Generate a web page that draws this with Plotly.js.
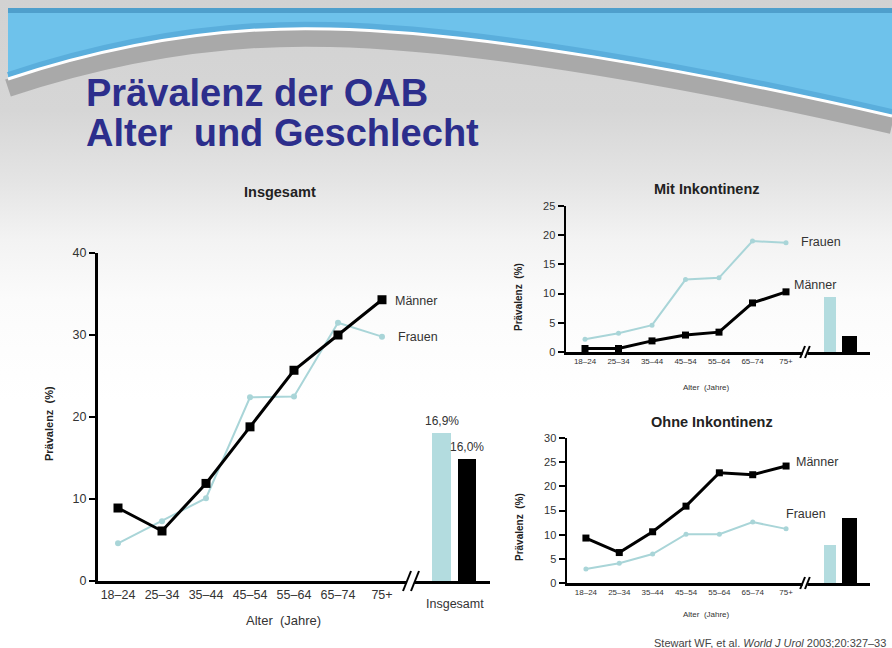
<!DOCTYPE html>
<html>
<head>
<meta charset="utf-8">
<script src="https://cdn.plot.ly/plotly-3.0.1.min.js"></script>
<style>
  html, body { margin: 0; padding: 0; }
  #chart {
    width: 892px; height: 648px;
    background: linear-gradient(to bottom, #d2d2d2 0px, #d6d6d6 110px, #e4e4e4 180px, #f3f3f3 240px, #fbfbfb 300px, #ffffff 400px);
  }
</style>
</head>
<body>
<div id="chart"></div>
<script>
// ---------- data ----------
const ageGroups = ["18–24", "25–34", "35–44", "45–54", "55–64", "65–74", "75+"];
const sexes = ["Frauen", "Männer"];

// Insgesamt
const totalMaenner = [8.9, 6.1, 11.9, 18.8, 25.7, 30.0, 34.3];
const totalFrauen  = [4.6, 7.3, 10.1, 22.4, 22.5, 31.5, 29.8];
const totalBars    = [18.1, 14.9];          // Frauen, Männer
const totalBarLabels = ["16,9%", "16,0%"];

// Mit Inkontinenz
const mitMaenner = [0.6, 0.6, 1.9, 2.9, 3.4, 8.4, 10.3];
const mitFrauen  = [2.2, 3.2, 4.6, 12.4, 12.7, 19.0, 18.7];
const mitBars    = [9.4, 2.7];

// Ohne Inkontinenz
const ohneMaenner = [9.3, 6.3, 10.6, 15.9, 22.8, 22.4, 24.2];
const ohneFrauen  = [2.9, 4.1, 6.0, 10.1, 10.1, 12.6, 11.2];
const ohneBars    = [7.9, 13.4];

// ---------- helpers ----------
const W = 892, H = 648;
const X = px => px / W;
const Y = py => 1 - py / H;
const FONT = "Liberation Sans, Arial, sans-serif";
const TEAL = "#a9d5d8";
const TEALBAR = "#b3dcdf";

function pathFrom(pts, close) {
  let s = "M " + X(pts[0][0]) + "," + Y(pts[0][1]);
  for (let i = 1; i < pts.length; i++) {
    const p = pts[i];
    if (p.length === 6) {
      s += " C " + X(p[0]) + "," + Y(p[1]) + " " + X(p[2]) + "," + Y(p[3]) + " " + X(p[4]) + "," + Y(p[5]);
    } else {
      s += " L " + X(p[0]) + "," + Y(p[1]);
    }
  }
  return s + (close ? " Z" : "");
}
function shiftCurve(dy) {
  return [[8, 79 + dy], [120, 42 + dy, 230, 26 + dy, 330, 29 + dy], [480, 32 + dy, 700, 72 + dy, 892, 116 + dy]];
}

// ---------- traces ----------
function lineTrace(y, xa, ya, male, small) {
  return {
    type: "scatter", mode: "lines+markers",
    x: ageGroups, y: y, xaxis: xa, yaxis: ya,
    line: { color: male ? "#000000" : TEAL, width: male ? 3 : 2 },
    marker: male ? { symbol: "square", size: small ? 7 : 9, color: "#000" }
                 : { symbol: "circle", size: small ? 5 : 6, color: TEAL },
    hoverinfo: "x+y", showlegend: false, cliponaxis: false
  };
}
function barTrace(y, xa, ya, width) {
  return {
    type: "bar", x: sexes, y: y, xaxis: xa, yaxis: ya, width: width,
    marker: { color: [TEALBAR, "#000000"] }, showlegend: false, hoverinfo: "x+y"
  };
}

const data = [
  lineTrace(totalFrauen, "x", "y", false, false),
  lineTrace(totalMaenner, "x", "y", true, false),
  barTrace(totalBars, "x2", "y", 0.74),
  lineTrace(mitFrauen, "x3", "y2", false, true),
  lineTrace(mitMaenner, "x3", "y2", true, true),
  barTrace(mitBars, "x4", "y2", [0.62, 0.77]),
  lineTrace(ohneFrauen, "x5", "y3", false, true),
  lineTrace(ohneMaenner, "x5", "y3", true, true),
  barTrace(ohneBars, "x6", "y3", [0.62, 0.77])
];

// ---------- axes ----------
function catAxis(domain, range, anchor, lw, fs, showLabels) {
  return {
    domain: domain, range: range, type: "category", anchor: anchor,
    showline: true, linecolor: "#000", linewidth: lw, ticks: "",
    showgrid: false, zeroline: false, showticklabels: showLabels,
    tickfont: { family: FONT, size: fs, color: "#333" }, fixedrange: true
  };
}
function valAxis(domain, range, dtick, anchor, lw, fs) {
  return {
    domain: domain, range: range, dtick: dtick, anchor: anchor,
    showline: true, linecolor: "#000", linewidth: lw,
    ticks: "outside", ticklen: 6, tickwidth: 2, tickcolor: "#000",
    showgrid: false, zeroline: false,
    tickfont: { family: FONT, size: fs, color: "#333" }, fixedrange: true
  };
}

const layout = {
  width: W, height: H,
  margin: { l: 0, r: 0, t: 0, b: 0 },
  paper_bgcolor: "rgba(0,0,0,0)", plot_bgcolor: "rgba(0,0,0,0)",
  showlegend: false, bargap: 0,
  xaxis:  catAxis([X(98), X(412)], [-0.4545, 6.682], "y", 3, 12.5, true),
  xaxis2: catAxis([X(412), X(490)], [-1.157, 1.9], "y", 3, 12, false),
  yaxis:  valAxis([Y(581), Y(253)], [0, 40], 10, "x", 3, 12.5),
  xaxis3: catAxis([X(566), X(805)], [-0.567, 6.567], "y2", 2.5, 8, true),
  xaxis4: catAxis([X(805), X(870)], [-1.282, 2.051], "y2", 2.5, 8, false),
  yaxis2: valAxis([Y(352), Y(206)], [0, 25], 5, "x3", 2.5, 11),
  xaxis5: catAxis([X(567), X(805)], [-0.567, 6.567], "y3", 2.5, 8, true),
  xaxis6: catAxis([X(805), X(870)], [-1.282, 2.051], "y3", 2.5, 8, false),
  yaxis3: valAxis([Y(583), Y(438)], [0, 30], 5, "x5", 2.5, 11),
  shapes: [],
  annotations: []
};

// ---------- background decoration ----------
const sh = layout.shapes;
sh.push({ type: "path", xref: "paper", yref: "paper", layer: "below",
  path: pathFrom(shiftCurve(9), false), line: { color: "#a9a9a9", width: 18 } });
sh.push({ type: "path", xref: "paper", yref: "paper", layer: "below",
  path: pathFrom([[8, 8], [892, 8], [892, 116], [700, 72, 480, 32, 330, 29], [230, 26, 120, 42, 8, 79]], true),
  fillcolor: "#6ec2eb", line: { width: 0 } });
sh.push({ type: "rect", xref: "paper", yref: "paper", layer: "below",
  x0: X(8), x1: X(892), y0: Y(8), y1: Y(13), fillcolor: "#4f9fcc", line: { width: 0 } });
sh.push({ type: "path", xref: "paper", yref: "paper", layer: "below",
  path: pathFrom(shiftCurve(-4), false), line: { color: "#5aaedc", width: 6 } });
sh.push({ type: "path", xref: "paper", yref: "paper", layer: "below",
  path: pathFrom(shiftCurve(0), false), line: { color: "#ffffff", width: 3 } });

function breakMarks(cx, cy, s) {
  const h = 10 * s, d = 4 * s;
  sh.push({ type: "rect", xref: "paper", yref: "paper", x0: X(cx - d), x1: X(cx + d), y0: Y(cy + 3), y1: Y(cy - 3),
    fillcolor: "#ffffff", line: { width: 0 } });
  [-d, d].forEach(off => {
    sh.push({ type: "line", xref: "paper", yref: "paper",
      x0: X(cx + off - h * 0.4), y0: Y(cy + h), x1: X(cx + off + h * 0.4), y1: Y(cy - h),
      line: { color: "#000", width: 2 } });
  });
}
breakMarks(411, 581, 1);
breakMarks(805, 352, 0.6);
breakMarks(805, 583, 0.6);

// ---------- annotations ----------
const an = layout.annotations;
function txt(text, x, y, size, opts, color) {
  an.push(Object.assign({
    text: text, xref: "paper", yref: "paper", x: X(x), y: Y(y),
    showarrow: false, xanchor: "center", yanchor: "middle",
    font: { family: FONT, size: size, color: color || "#222" }
  }, opts || {}));
}
txt("<b>Prävalenz der OAB</b>", 84, 93, 38, { xanchor: "left" }, "#2c2e8c");
txt("<b>Alter  und Geschlecht</b>", 84, 133, 38, { xanchor: "left" }, "#2c2e8c");
txt("<b>Insgesamt</b>", 280, 192, 14.5);
txt("<b>Mit Inkontinenz</b>", 707, 189, 14.5);
txt("<b>Ohne Inkontinenz</b>", 712, 422, 14.5);
txt("<b>Prävalenz  (%)</b>", 49, 424, 11, { textangle: -90 });
txt("<b>Prävalenz  (%)</b>", 519, 297, 10, { textangle: -90 });
txt("<b>Prävalenz  (%)</b>", 519, 527, 10, { textangle: -90 });
txt("Alter  (Jahre)", 283, 620, 13, null, "#333");
txt("Alter  (Jahre)", 706, 387, 8, null, "#333");
txt("Alter  (Jahre)", 706, 614, 8, null, "#333");
txt("Insgesamt", 455, 604, 12.5, null, "#333");
txt("Stewart WF, et al. <i>World J Urol</i> 2003;20:327–33", 888, 643, 11, { xanchor: "right" }, "#444");

function seriesLabel(name, xa, ya, yv, xs, ys, size) {
  an.push({ text: name, xref: xa, yref: ya, x: ageGroups[ageGroups.length - 1], y: yv,
    xanchor: "left", yanchor: "middle", xshift: xs, yshift: ys, showarrow: false,
    font: { family: FONT, size: size, color: "#333" } });
}
seriesLabel("Männer", "x", "y", totalMaenner[6], 11, -1, 12.5);
seriesLabel("Frauen", "x", "y", totalFrauen[6], 14, 0, 12.5);
seriesLabel("Frauen", "x3", "y2", mitFrauen[6], 13, 1, 12.5);
seriesLabel("Männer", "x3", "y2", mitMaenner[6], 6, 7, 12.5);
seriesLabel("Männer", "x5", "y3", ohneMaenner[6], 8, 4, 12.5);
seriesLabel("Frauen", "x5", "y3", ohneFrauen[6], -2, 15, 12.5);

totalBarLabels.forEach((t, i) => {
  an.push({ text: t, xref: "x2", yref: "y", x: sexes[i], y: totalBars[i],
    xanchor: "center", yanchor: "bottom", yshift: 3, showarrow: false,
    font: { family: FONT, size: 12, color: "#333" } });
});

Plotly.newPlot("chart", data, layout, { staticPlot: true, displayModeBar: false });
</script>
</body>
</html>
